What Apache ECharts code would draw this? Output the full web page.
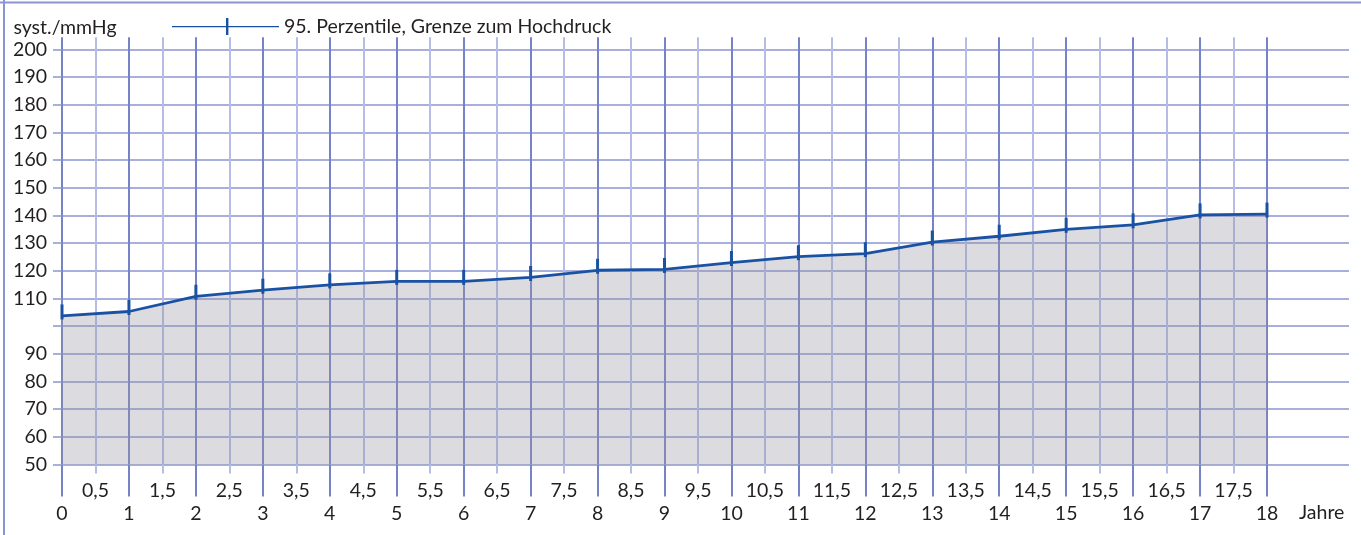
<!DOCTYPE html>
<html>
<head>
<meta charset="utf-8">
<script src="https://cdn.jsdelivr.net/npm/echarts@6/dist/echarts.min.js"></script>
<style>
html,body{margin:0;padding:0;background:#fff;}
#chart{width:1361px;height:535px;}
</style>
</head>
<body>
<div id="chart"></div>
<script>
// ---- data ----
const ages = [0,1,2,3,4,5,6,7,8,9,10,11,12,13,14,15,16,17,18];
const systolic95 = [103.7,105.3,110.8,113,114.9,116.2,116.2,117.6,120.2,120.5,123,125.1,126.2,130.4,132.5,135,136.6,140.2,140.5];
const seriesName = '95. Perzentile, Grenze zum Hochdruck';
const yAxisName = 'syst./mmHg';
const xAxisName = 'Jahre';
const yHiddenLabels = [100];

// ---- style ----
const FONT = 'Lato, "Open Sans", sans-serif';
const FS = 19.5;
const TXT = '#231f20';
const LINE = '#1a52a3';
const HCOL = '#8a95d2';
const INTCOL = '#7683c6';
const HALFCOL = '#b5bce6';

const chart = echarts.init(document.getElementById('chart'), null, {renderer: 'canvas'});

const option = {
  animation: false,
  backgroundColor: '#fff',
  textStyle: {fontFamily: FONT},
  grid: [
    {left: 62, right: 12, top: 49.5, bottom: 70.5, containLabel: false, outerBoundsMode: 'none'},
    {left: 62, right: 94, top: 37.3, bottom: 70.5, containLabel: false, outerBoundsMode: 'none'}
  ],
  legend: {
    left: 172, top: 16.5, padding: 0,
    data: [seriesName],
    icon: 'path://M0,8 L107,8 L107,9.3 L0,9.3 Z M54,0 L56.4,0 L56.4,17 L54,17 Z',
    itemWidth: 107, itemHeight: 17,
    itemStyle: {borderWidth: 0},
    textStyle: {fontSize: FS, color: TXT, fontFamily: FONT}
  },
  xAxis: [
    {gridIndex: 0, type: 'value', min: 0, max: 1, show: false},
    {
      gridIndex: 1, type: 'value', position: 'bottom', min: 0, max: 18, interval: 0.5,
      axisLine: {show: false},
      axisTick: {show: true, length: 9, lineStyle: {color: HALFCOL, width: 2}},
      axisLabel: {
        margin: 16, fontSize: FS, color: TXT, fontFamily: FONT,
        formatter: v => (Math.abs(v % 1) < 1e-9) ? '' : String(v).replace('.', ',')
      },
      splitLine: {show: true, lineStyle: {color: [INTCOL, HALFCOL], width: 2}}
    },
    {
      gridIndex: 1, type: 'value', position: 'bottom', min: 0, max: 18, interval: 1,
      axisLine: {show: false},
      axisTick: {show: true, length: 32, lineStyle: {color: INTCOL, width: 2}},
      axisLabel: {margin: 39, fontSize: FS, color: TXT, fontFamily: FONT},
      splitLine: {show: false}
    }
  ],
  yAxis: [
    {
      gridIndex: 0, type: 'value', min: 50, max: 200, interval: 10,
      axisLine: {show: false},
      axisTick: {show: true, length: 9, lineStyle: {color: HCOL, width: 1.5}},
      splitLine: {show: true, lineStyle: {color: HCOL, width: 1.5}},
      axisLabel: {
        margin: 15, fontSize: FS, color: TXT, fontFamily: FONT,
        formatter: v => yHiddenLabels.indexOf(v) >= 0 ? '' : String(v)
      },
      name: yAxisName, nameLocation: 'end', nameGap: 12,
      nameTextStyle: {fontSize: FS, color: TXT, fontFamily: FONT, padding: [0, 0, 0, 6]}
    },
    {gridIndex: 1, type: 'value', min: 50, max: 204.4, show: false}
  ],
  graphic: [
    {type: 'line', shape: {x1: 0, y1: 2.5, x2: 1361, y2: 2.5}, style: {stroke: HCOL, lineWidth: 2}, silent: true},
    {type: 'line', shape: {x1: 4, y1: 0, x2: 4, y2: 535}, style: {stroke: HCOL, lineWidth: 2}, silent: true},
    {type: 'text', left: 1299, top: 503, style: {text: xAxisName, fontSize: FS, fill: TXT, fontFamily: FONT}}
  ],
  series: [
    {
      name: seriesName,
      type: 'line',
      xAxisIndex: 2, yAxisIndex: 1,
      data: ages.map((a, i) => [a, systolic95[i]]),
      showSymbol: true,
      symbol: 'rect',
      symbolSize: [3, 15],
      symbolOffset: [0, -4],
      lineStyle: {color: LINE, width: 2.8},
      itemStyle: {color: LINE, borderWidth: 0},
      areaStyle: {color: 'rgb(150,150,162)', opacity: 0.33, origin: 'start'},
      z: 3
    }
  ]
};
chart.setOption(option);
</script>
</body>
</html>
